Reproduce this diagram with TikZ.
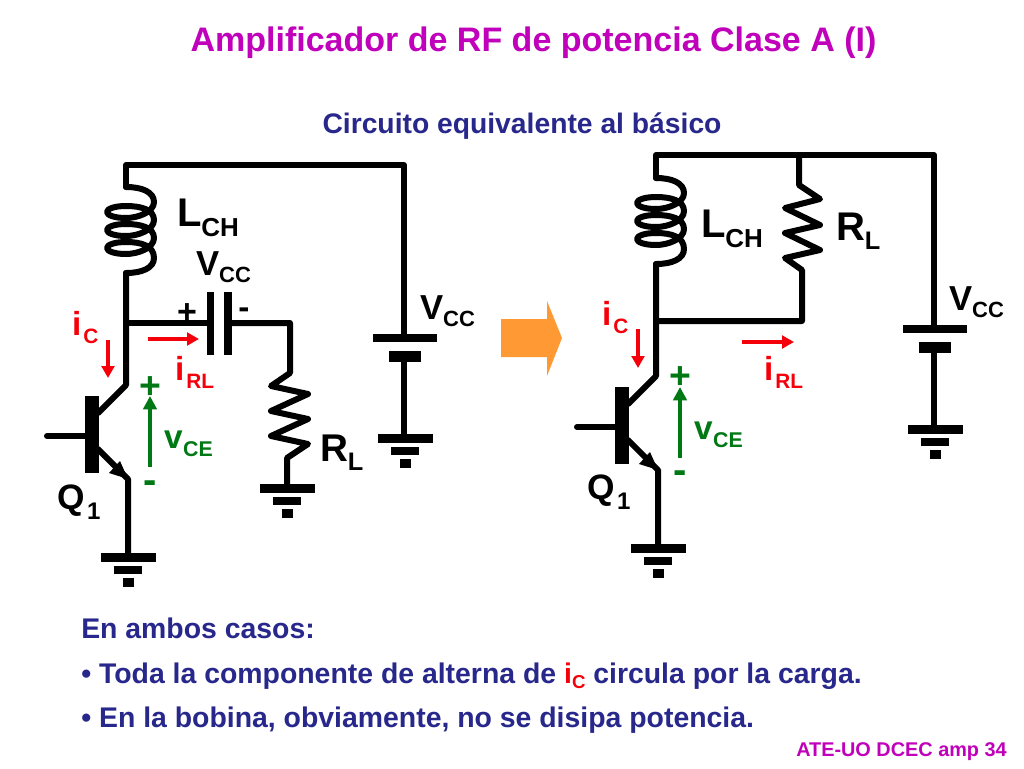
\documentclass[tikz,border=0pt]{standalone}
\usepackage{fontspec}
\setmainfont{Liberation Sans}
\usetikzlibrary{arrows.meta}
\definecolor{titlecol}{RGB}{192,0,186}
\definecolor{navy}{RGB}{40,40,140}
\definecolor{redc}{RGB}{245,0,10}
\definecolor{greenc}{RGB}{0,120,20}
\definecolor{orangec}{RGB}{255,153,51}
% colour, main size, sub size, drop (pt), position, text, subscript
\newcommand{\mylabel}[7]{\node[anchor=base west,text=#1,inner sep=0pt,outer sep=0pt] at #5 {\bfseries\fontsize{#2}{#2}\selectfont #6\raisebox{-#4pt}{\fontsize{#3}{#3}\selectfont #7}};}
\newcommand{\myground}[2]{%
 \fill (#1-27.5,#2-4) rectangle (#1+27.5,#2+4.5);
 \fill (#1-14,#2+9) rectangle (#1+14,#2+17);
 \fill (#1-5.5,#2+21) rectangle (#1+5.5,#2+30);}
\begin{document}
\begin{tikzpicture}[x=0.75pt,y=-0.75pt,
  wire/.style={line width=4.5pt,line cap=round,line join=round},
  coil/.pic={\draw[wire] (0,-43) .. controls (16,-43) and (28,-38) .. (28,-28)
   .. controls (28,-18) and (12,-12) .. (0,-12) .. controls (-12,-12) and (-19,-15) .. (-19,-18)
   .. controls (-19,-21) and (-12,-24) .. (0,-24) .. controls (16,-24) and (28,-20) .. (28,-10)
   .. controls (28,0) and (12,6) .. (0,6) .. controls (-12,6) and (-19,3) .. (-19,0)
   .. controls (-19,-3) and (-12,-6) .. (0,-6) .. controls (16,-6) and (28,-2) .. (28,8)
   .. controls (28,18) and (12,24) .. (0,24) .. controls (-12,24) and (-19,21) .. (-19,18)
   .. controls (-19,15) and (-12,12) .. (0,12) .. controls (16,12) and (28,16) .. (28,28)
   .. controls (28,38) and (16,43) .. (0,43);},
  redarrow/.style={draw=redc,line width=3pt,-{Triangle[length=9pt,width=9.5pt]}},
  greenarrow/.style={draw=greenc,line width=3pt,-{Triangle[length=10pt,width=10pt]}},
  sign/.style={anchor=base,inner sep=0pt,font=\bfseries}]
\useasboundingbox (0,0) rectangle (1024,768);
\fill[white] (0,0) rectangle (1024,768);

% left circuit
\coordinate (lTop) at (126,165); \coordinate (lTopR) at (404,165);
\coordinate (lCoilT) at (126,187); \coordinate (lCoilB) at (126,273);
\coordinate (lNode) at (126,323); \coordinate (lC) at (126,385);
\coordinate (lBaseC) at (98,413); \coordinate (lBaseE) at (98,449);
\coordinate (lE) at (128,479); \coordinate (lGnd) at (128,557);
\coordinate (lB) at (47,436); \coordinate (lBb) at (90,436);
\coordinate (lCapA) at (210,323); \coordinate (lCapB) at (228,323);
\coordinate (lRt) at (290,323); \coordinate (lBatT) at (404,338);
\coordinate (lBatB) at (404,356); \coordinate (lG2) at (404,438);
\coordinate (lG3) at (287,488);
\pic at (126,230) {coil};
\draw[wire] (lCoilT) -- (lTop) -- (lTopR) -- (lBatT);
\draw[wire] (lCoilB) -- (lC) -- (lBaseC);
\draw[wire] (lB) -- (lBb);
\draw[wire] (lBaseE) -- (lE) -- (lGnd);
\fill (85,396) rectangle (99,473);
\fill (128,479) -- (109,473) -- (120,461) -- cycle;
\draw[wire,line cap=butt] (lNode) -- (lCapA);
\fill (207,292) rectangle (214,355);
\fill (224,292) rectangle (232,355);
\draw[wire] (lCapB) -- (lRt) -- (290,373) -- (271,386) -- (308,394) -- (271,411) -- (308,419) -- (271,436) -- (308,444) -- (287,458) -- (lG3);
\fill (373,334) rectangle (437,342);
\fill (389,351) rectangle (421,362);
\draw[wire] (lBatB) -- (lG2);
\myground{128}{557}
\myground{287}{488}
\myground{405}{438}

% right circuit
\coordinate (rTop) at (656,155); \coordinate (rTopR) at (934,155);
\coordinate (rCoilT) at (656,178); \coordinate (rCoilB) at (656,264);
\coordinate (rNode) at (656,321); \coordinate (rC) at (656,376);
\coordinate (rBaseC) at (628,404); \coordinate (rBaseE) at (628,440);
\coordinate (rE) at (658,470); \coordinate (rGnd) at (658,548);
\coordinate (rB) at (577,427); \coordinate (rBb) at (620,427);
\coordinate (rRt) at (799,155); \coordinate (rRb) at (802,321);
\coordinate (rBatT) at (934,329); \coordinate (rBatB) at (934,347);
\coordinate (rG2) at (934,429);
\pic at (656,221) {coil};
\draw[wire] (rCoilT) -- (rTop) -- (rTopR) -- (rBatT);
\draw[wire] (rCoilB) -- (rC) -- (rBaseC);
\draw[wire] (rB) -- (rBb);
\draw[wire] (rBaseE) -- (rE) -- (rGnd);
\fill (615,387) rectangle (629,464);
\fill (658,470) -- (639,464) -- (650,452) -- cycle;
\draw[wire] (rRt) -- (799,185) -- (820,199) -- (785,208) -- (820,225) -- (785,233) -- (820,250) -- (785,258) -- (802,270) -- (rRb) -- (rNode);
\fill (903,325) rectangle (967,333);
\fill (919,342) rectangle (951,353);
\draw[wire] (rBatB) -- (rG2);
\myground{658}{548}
\myground{935}{429}

% currents and voltages
\coordinate (a1s) at (108,340); \coordinate (a1e) at (108,378);
\draw[redarrow] (a1s) -- (a1e);
\coordinate (a2s) at (148,339); \coordinate (a2e) at (199,339);
\draw[redarrow] (a2s) -- (a2e);
\coordinate (a3s) at (638,329); \coordinate (a3e) at (638,368);
\draw[redarrow] (a3s) -- (a3e);
\coordinate (a4s) at (742,342); \coordinate (a4e) at (794,342);
\draw[redarrow] (a4s) -- (a4e);
\coordinate (v1s) at (150,467); \coordinate (v1e) at (150,396);
\draw[greenarrow] (v1s) -- (v1e);
\coordinate (v2s) at (680,458); \coordinate (v2e) at (680,387);
\draw[greenarrow] (v2s) -- (v2e);

% big arrow
\fill[orangec] (501,319) -- (547,319) -- (547,301) -- (562,338) -- (547,376) -- (547,357) -- (501,357) -- cycle;

% labels
\node[anchor=base,font=\bfseries\fontsize{25.5}{25.5}\selectfont,text=titlecol,inner sep=0pt] (title) at (533.5,51) {Amplificador de RF de potencia Clase A (I)};
\node[anchor=base,font=\bfseries\fontsize{21.2}{21.2}\selectfont,text=navy,inner sep=0pt] (sub) at (522,133) {Circuito equivalente al básico};

\mylabel{black}{30}{19.5}{7.5}{(177,226)}{L}{CH}
\mylabel{black}{30}{19.5}{7.5}{(701,237)}{L}{CH}
\mylabel{black}{26}{16.5}{5.5}{(196,275)}{V}{CC}
\mylabel{black}{26}{16.5}{5.5}{(420,319)}{V}{CC}
\mylabel{black}{26}{16.5}{5.5}{(949,310)}{V}{CC}
\mylabel{black}{29}{19}{7}{(320,461)}{R}{L}
\mylabel{black}{30}{19}{7}{(836,240)}{R}{L}
\mylabel{black}{26.5}{18}{8}{(57,509)}{Q\kern2pt}{1}
\mylabel{black}{26.5}{18}{8}{(587,499)}{Q\kern2pt}{1}
\mylabel{redc}{25}{15.6}{6}{(72,335)}{i\kern1.5pt}{C}
\mylabel{redc}{25}{15.6}{6}{(602,325)}{i\kern1.5pt}{C}
\mylabel{redc}{25}{15.6}{6}{(175,380)}{i\kern1.5pt}{RL}
\mylabel{redc}{25}{15.6}{6}{(764,380)}{i\kern1.5pt}{RL}
\mylabel{greenc}{25}{16}{6}{(164,448)}{v\kern.5pt}{CE}
\mylabel{greenc}{25}{16}{6}{(694,439)}{v\kern.5pt}{CE}
\node[sign,font=\bfseries\fontsize{25.5}{25.5}\selectfont] (cp) at (187,323.5) {+};
\node[sign,font=\bfseries\fontsize{25}{25}\selectfont] (cm) at (244,318) {-};
\node[sign,font=\bfseries\fontsize{28}{28}\selectfont,text=greenc] (vp1) at (150,398) {+};
\node[sign,font=\bfseries\fontsize{30}{30}\selectfont,text=greenc] (vm1) at (150,493) {-};
\node[sign,font=\bfseries\fontsize{28}{28}\selectfont,text=greenc] (vp2) at (680,388) {+};
\node[sign,font=\bfseries\fontsize{30}{30}\selectfont,text=greenc] (vm2) at (680,483) {-};

\node[anchor=base west,font=\bfseries\fontsize{21.3}{21.3}\selectfont,text=navy,inner sep=0pt] (t1) at (81,638) {En ambos casos:};
\node[anchor=base west,font=\bfseries\fontsize{21.3}{21.3}\selectfont,text=navy,inner sep=0pt] (t2) at (81,683) {• Toda la componente de alterna de \textcolor{redc}{i\raisebox{-4pt}{\fontsize{14}{14}\selectfont C}} circula por la carga.};
\node[anchor=base west,font=\bfseries\fontsize{21.3}{21.3}\selectfont,text=navy,inner sep=0pt] (t3) at (81,727) {• En la bobina, obviamente, no se disipa potencia.};
\node[anchor=base east,font=\bfseries\fontsize{14.9}{14.9}\selectfont,text=titlecol,inner sep=0pt] (t4) at (1007,756) {ATE-UO DCEC amp 34};
\end{tikzpicture}
\end{document}
